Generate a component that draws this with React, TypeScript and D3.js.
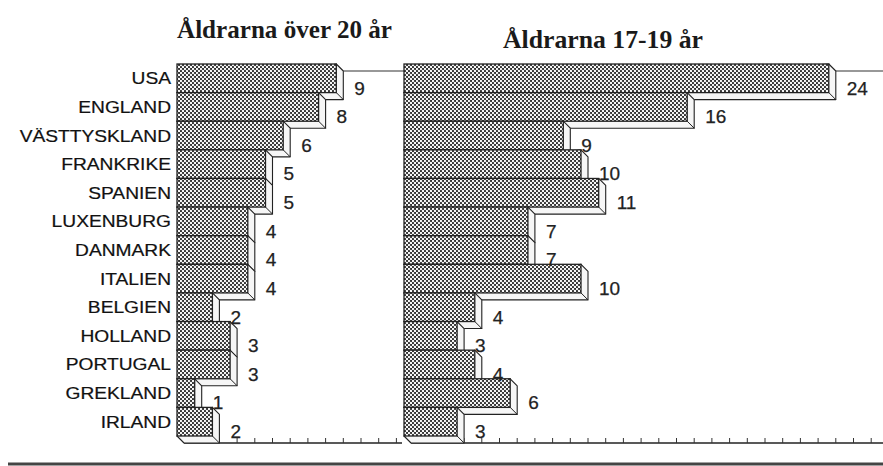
import React from "react";
import * as d3 from "d3";

const countries = [
  "USA", "ENGLAND", "VÄSTTYSKLAND", "FRANKRIKE", "SPANIEN", "LUXENBURG",
  "DANMARK", "ITALIEN", "BELGIEN", "HOLLAND", "PORTUGAL", "GREKLAND", "IRLAND",
];
const over20 = [9, 8, 6, 5, 5, 4, 4, 4, 2, 3, 3, 1, 2];
const age17to19 = [24, 16, 9, 10, 11, 7, 7, 10, 4, 3, 4, 6, 3];
const titleLeft = "Åldrarna över 20 år";
const titleRight = "Åldrarna 17-19 år";
const leftTicks = d3.range(1, 13);
const rightTicks = d3.range(1, 27);

const W = 883;
const H = 466;
const D = 7; // 3D depth
const UNIT = 17.7;
const AXIS_Y = 443;

const xL = d3.scaleLinear().domain([0, 1]).range([177, 177 + UNIT]);
const xR = d3.scaleLinear().domain([0, 1]).range([404, 404 + UNIT]);
const y = d3.scaleBand<string>().domain(countries).range([64, 436]).padding(0);

function Panel({ values, x, ticks, axisEnd, frameEnd }: any) {
  const x0 = x(0);
  const top = y(countries[0])!;
  return (
    <g>
      <line x1={x0 + D} x2={axisEnd} y1={AXIS_Y} y2={AXIS_Y} stroke="#222" strokeWidth={1.3} />
      {ticks.map((t: number) => (
        <line key={t} x1={x(t) + D} x2={x(t) + D} y1={AXIS_Y} y2={AXIS_Y - 5} stroke="#333" strokeWidth={1} />
      ))}
      <line x1={x(values[0]) + D} x2={frameEnd} y1={top + D} y2={top + D} stroke="#333" strokeWidth={1.2} />
      {values.map((v: number, i: number) => {
        const c = countries[i];
        const y0 = y(c)!;
        const y1 = y0 + y.bandwidth();
        const x1 = x(v);
        const ext = [
          [x1, y0], [x1 + D, y0 + D], [x1 + D, y1 + D], [x0 + D, y1 + D], [x0, y1],
        ].map((p) => p.join(",")).join(" ");
        return (
          <g key={c}>
            <polygon points={ext} fill="#f6f6f6" stroke="#222" strokeWidth={1.1} strokeLinejoin="round" />
            <line x1={x1} y1={y1} x2={x1 + D} y2={y1 + D} stroke="#222" strokeWidth={1} />
            <rect x={x0} y={y0} width={x1 - x0} height={y1 - y0} fill="url(#hatch)" stroke="#222" strokeWidth={1.3} />
          </g>
        );
      })}
      {values.map((v: number, i: number) => {
        const c = countries[i];
        const y1 = y(c)! + y.bandwidth();
        return (
          <text key={c} x={x(v) + 18} y={y1 + 2} fontSize={19} fill="#222" stroke="#222" strokeWidth={0.25}
            fontFamily="'Liberation Sans', Arial, Helvetica, sans-serif">
            {v}
          </text>
        );
      })}
    </g>
  );
}

export default function App() {
  return (
    <svg width={W} height={H} style={{ position: "absolute", left: 0, top: 0, background: "#fff" }}>
      <defs>
        <pattern id="hatch" width={4} height={4} patternUnits="userSpaceOnUse">
          <rect width={4} height={4} fill="#333" />
          <circle cx={1} cy={1} r={1.15} fill="#fff" />
          <circle cx={3} cy={3} r={1.15} fill="#fff" />
        </pattern>
      </defs>
      <text x={177} y={38} fontSize={25} fontWeight="bold" fill="#1a1a1a" textLength={215} lengthAdjust="spacingAndGlyphs"
        fontFamily="'Liberation Serif', 'Times New Roman', serif">{titleLeft}</text>
      <text x={503} y={48} fontSize={25} fontWeight="bold" fill="#1a1a1a" textLength={200} lengthAdjust="spacingAndGlyphs"
        fontFamily="'Liberation Serif', 'Times New Roman', serif">{titleRight}</text>
      {countries.map((c) => (
        <text key={c} transform={`translate(171,${y(c)! + y.bandwidth() / 2 + 6}) scale(1.2,1)`}
          textAnchor="end" fontSize={16} fill="#111" stroke="#111" strokeWidth={0.2}
          fontFamily="'Liberation Sans', Arial, Helvetica, sans-serif">{c}</text>
      ))}
      <Panel values={over20} x={xL} ticks={leftTicks} axisEnd={402} frameEnd={404} />
      <Panel values={age17to19} x={xR} ticks={rightTicks} axisEnd={883} frameEnd={883} />
      <line x1={8} x2={883} y1={464} y2={464} stroke="#444" strokeWidth={3} />
    </svg>
  );
}
